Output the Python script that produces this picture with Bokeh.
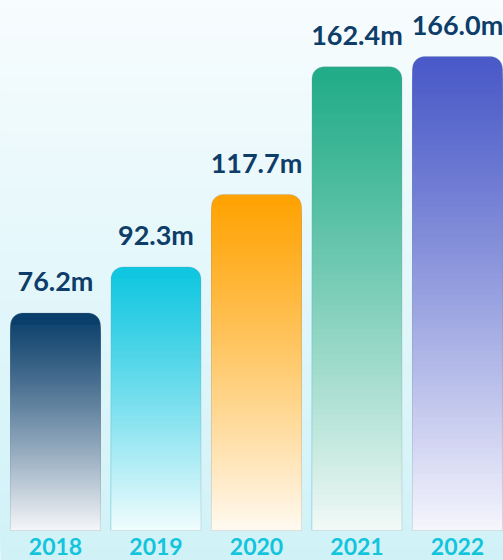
import numpy as np
from bokeh.plotting import figure
from bokeh.models import Range1d
from bokeh.embed import file_html
from bokeh.resources import INLINE
from bokeh.core.properties import value

# ---- data ----
years = ["2018", "2019", "2020", "2021", "2022"]
revenue = [76.2, 92.3, 117.7, 162.4, 166.0]
value_labels = ["76.2m", "92.3m", "117.7m", "162.4m", "166.0m"]

# ---- style ----
top_colors = ["#0b3f6b", "#10c6e0", "#ffa304", "#22ac88", "#4a5ac8"]
bottom_colors = ["#f6f7f9", "#f3fdfe", "#fffaf2", "#f3faf8", "#f7f7fd"]
bg_top, bg_bottom = "#f7fcfe", "#d0f2f7"
label_color = "#0d3d68"
year_color = "#12c4dc"

W, H = 503, 560
X0, X1 = -0.547, 4.458
Y0, Y1 = -10.5, 185.6
BAR_W = 0.895
RADIUS_PX = 12
px_per_unit = H / (Y1 - Y0)
r_units = RADIUS_PX / px_per_unit


def hex2rgb(h):
    h = h.lstrip("#")
    return np.array([int(h[i:i + 2], 16) for i in (0, 2, 4)], dtype=float)


def mix(c1, c2, t):
    a, b = hex2rgb(c1), hex2rgb(c2)
    c = a + (b - a) * t
    return "#%02x%02x%02x" % tuple(int(round(v)) for v in c)


p = figure(width=W, height=H, output_backend="svg", toolbar_location=None,
           x_range=Range1d(X0, X1), y_range=Range1d(Y0, Y1), min_border=0)
p.axis.visible = False
p.grid.visible = False
p.outline_line_color = None
p.background_fill_color = bg_top
p.border_fill_color = bg_top

# background gradient (bands drawn from the bottom up, each covering the rest to the top)
NB = 80
bl, br, bb, bt, bc = [], [], [], [], []
for k in range(NB):
    yk = Y0 + (Y1 - Y0) * k / NB
    t = 1 - k / NB
    bl.append(X0 - 1); br.append(X1 + 1); bb.append(Y0 - 1 if k == 0 else yk); bt.append(Y1 + 1)
    bc.append(mix(bg_top, bg_bottom, t))
p.quad(left=bl, right=br, bottom=bb, top=bt, fill_color=bc, line_color=None)

xs = list(range(len(years)))

# rounded bar caps in top colours
p.vbar(x=xs, width=BAR_W, bottom=0, top=revenue, fill_color=top_colors, line_color=None,
       border_radius=(RADIUS_PX, RADIUS_PX, 0, 0))

# gradient slices
N = 90
ql, qr, qb, qt, qc = [], [], [], [], []
for i, v in enumerate(revenue):
    hmax = v - r_units
    for j in range(N):
        h = hmax * (1 - j / N)
        t = (1 - h / v) ** 1.15
        ql.append(xs[i] - BAR_W / 2); qr.append(xs[i] + BAR_W / 2)
        qb.append(0); qt.append(h)
        qc.append(mix(top_colors[i], bottom_colors[i], t))
p.quad(left=ql, right=qr, bottom=qb, top=qt, fill_color=qc, line_color=None)

# faint outline
p.vbar(x=xs, width=BAR_W, bottom=0, top=revenue, fill_alpha=0, line_color="#7f98a6",
       line_alpha=0.25, line_width=1, border_radius=(RADIUS_PX, RADIUS_PX, 0, 0))

# value labels
p.text(x=xs, y=revenue, text=value_labels, text_align="center", text_baseline="alphabetic",
       y_offset=-32, text_font=value("Lato"), text_font_size="27px", text_font_style="bold",
       text_color=label_color)

# year labels
p.text(x=xs, y=[0] * len(xs), text=years, text_align="center", text_baseline="alphabetic",
       y_offset=16, text_font=value("Lato"), text_font_size="23px", text_font_style="bold",
       text_color=year_color)

open("out.html", "w").write(file_html(p, INLINE))
